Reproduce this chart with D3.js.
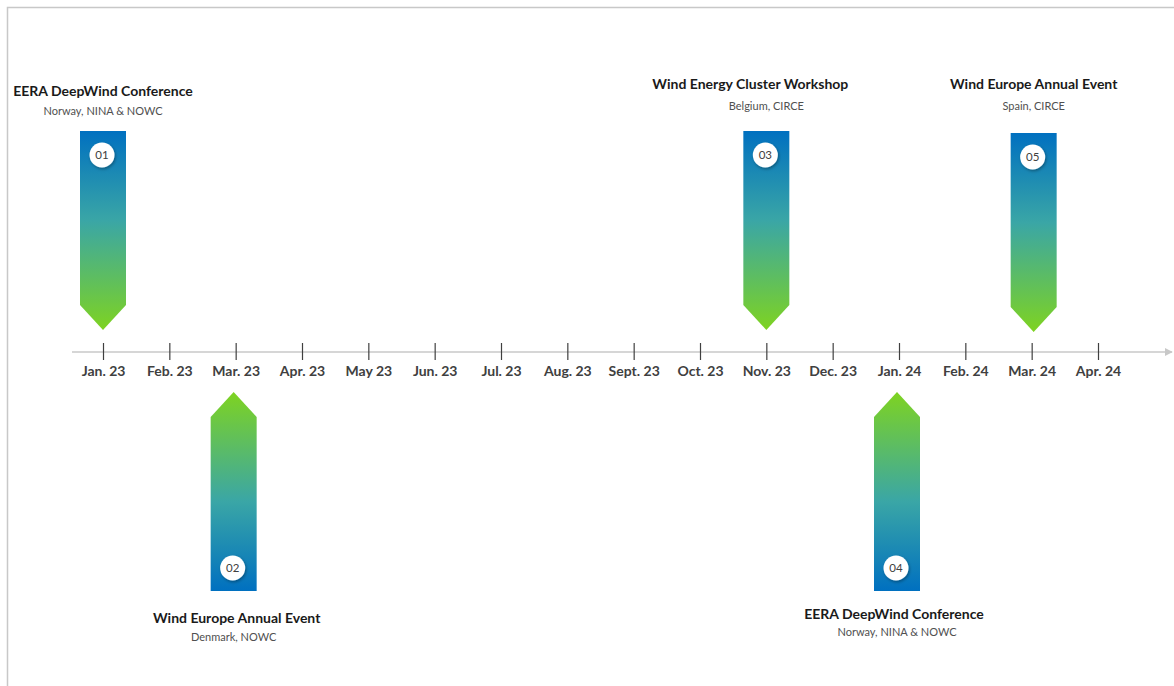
<!DOCTYPE html>
<html><head><meta charset="utf-8">
<script src="https://cdn.jsdelivr.net/npm/d3@7"></script>
<style>body{margin:0;background:#fff}svg{display:block}</style>
</head><body>
<svg id="c" width="1174" height="686"></svg>
<script>
const months = ["Jan. 23","Feb. 23","Mar. 23","Apr. 23","May 23","Jun. 23","Jul. 23","Aug. 23","Sept. 23","Oct. 23","Nov. 23","Dec. 23","Jan. 24","Feb. 24","Mar. 24","Apr. 24"];
const eventNums = ["01","02","03","04","05"];
const eventMonths = ["Jan. 23","Mar. 23","Nov. 23","Jan. 24","Mar. 24"];
const eventTitles = ["EERA DeepWind Conference","Wind Europe Annual Event","Wind Energy Cluster Workshop","EERA DeepWind Conference","Wind Europe Annual Event"];
const eventPlaces = ["Norway, NINA & NOWC","Denmark, NOWC","Belgium, CIRCE","Norway, NINA & NOWC","Spain, CIRCE"];
const eventSides = ["above","below","above","below","above"];

// layout tweaks (label placement offsets), separate from data
const labelShift = {"01":{tdx:0,tdy:5,sdy:6,ady:0},"02":{tdx:3,tdy:1,sdy:1,ady:0,cx:-2},"03":{tdx:-16,tdy:-2,sdy:1,ady:0},"04":{tdx:-3,tdy:-3,sdy:-4,ady:0,cx:-2},"05":{tdx:0,tdy:-2,sdy:1,ady:2,cx:2}};

const svg = d3.select("#c");
const W = 1174, H = 686, axisY = 352;
const font = "Lato, 'Open Sans', sans-serif";

svg.append("path").attr("d", `M7.5,${H} V7.5 H${W}`).attr("fill","none").attr("stroke","#c8c8c8").attr("stroke-width",1.5);

const x = d3.scalePoint().domain(months).range([103, 1098]);

const defs = svg.append("defs");
function grad(id, up){
  const g = defs.append("linearGradient").attr("id",id).attr("x1",0).attr("x2",0).attr("y1",up?1:0).attr("y2",up?0:1);
  g.append("stop").attr("offset","0%").attr("stop-color","#0070c0");
  g.append("stop").attr("offset","45%").attr("stop-color","#3aa6a6");
  g.append("stop").attr("offset","100%").attr("stop-color","#7ed321");
}
grad("gDown", false); grad("gUp", true);
const sh = defs.append("filter").attr("id","sh").attr("x","-50%").attr("y","-50%").attr("width","200%").attr("height","200%");
sh.append("feDropShadow").attr("dx",1).attr("dy",1.5).attr("stdDeviation",1.5).attr("flood-color","#000").attr("flood-opacity",0.35);

defs.append("marker").attr("id","arr").attr("viewBox","0 0 10 10").attr("refX",9).attr("refY",5)
  .attr("markerWidth",8).attr("markerHeight",8).attr("markerUnits","userSpaceOnUse").attr("orient","auto")
  .append("path").attr("d","M0,0 L10,5 L0,10 z").attr("fill","#c8c8c8");
svg.append("line").attr("x1",72).attr("x2",1172).attr("y1",axisY).attr("y2",axisY)
  .attr("stroke","#c8c8c8").attr("stroke-width",1.5).attr("marker-end","url(#arr)");

const axis = d3.axisBottom(x).tickSize(0).tickPadding(0);
const ag = svg.append("g").attr("transform",`translate(0,${axisY})`).call(axis);
ag.select(".domain").remove();
ag.selectAll(".tick line").attr("y1",-9).attr("y2",8).attr("stroke","#404040").attr("stroke-width",1.2);
ag.selectAll(".tick text").attr("y",24).attr("dy",0).attr("font-family",font).attr("font-weight","bold")
  .attr("font-size",14).attr("fill","#404040");

const events = eventNums.map((n,i)=>({num:n, month:eventMonths[i], title:eventTitles[i], place:eventPlaces[i], side:eventSides[i]}));
const aw = 23, tip = 25;
events.forEach(e=>{
  const s = labelShift[e.num];
  const cx = x(e.month) + (s.cx||0);
  const g = svg.append("g");
  if (e.side === "above") {
    const top = 131 + s.ady, bot = 330 + s.ady;
    g.append("path").attr("d",`M${cx-aw},${top} H${cx+aw} V${bot-tip} L${cx},${bot} L${cx-aw},${bot-tip} Z`).attr("fill","url(#gDown)");
    g.append("circle").attr("cx",cx-1).attr("cy",top+24).attr("r",12.5).attr("fill","#fff").attr("filter","url(#sh)");
    g.append("text").attr("x",cx-1).attr("y",top+28).attr("text-anchor","middle").attr("font-family",font).attr("font-size",11.5).attr("fill","#404040").text(e.num);
    g.append("text").attr("x",cx+s.tdx).attr("y",131-40+s.tdy).attr("text-anchor","middle").attr("font-family",font).attr("font-weight","bold").attr("font-size",14).attr("fill","#1a1a1a").text(e.title);
    g.append("text").attr("x",cx).attr("y",131-22+s.sdy).attr("text-anchor","middle").attr("font-family",font).attr("font-size",11).attr("fill","#505050").text(e.place);
  } else {
    const top = 392, bot = 591;
    g.append("path").attr("d",`M${cx},${top} L${cx+aw},${top+tip} V${bot} H${cx-aw} V${top+tip} Z`).attr("fill","url(#gUp)");
    g.append("circle").attr("cx",cx-1).attr("cy",bot-23).attr("r",12.5).attr("fill","#fff").attr("filter","url(#sh)");
    g.append("text").attr("x",cx-1).attr("y",bot-19).attr("text-anchor","middle").attr("font-family",font).attr("font-size",11.5).attr("fill","#404040").text(e.num);
    g.append("text").attr("x",cx+s.tdx).attr("y",bot+31+s.tdy).attr("text-anchor","middle").attr("font-family",font).attr("font-weight","bold").attr("font-size",14).attr("fill","#1a1a1a").text(e.title);
    g.append("text").attr("x",cx).attr("y",bot+49+s.sdy).attr("text-anchor","middle").attr("font-family",font).attr("font-size",11).attr("fill","#505050").text(e.place);
  }
});
</script>
</body></html>
